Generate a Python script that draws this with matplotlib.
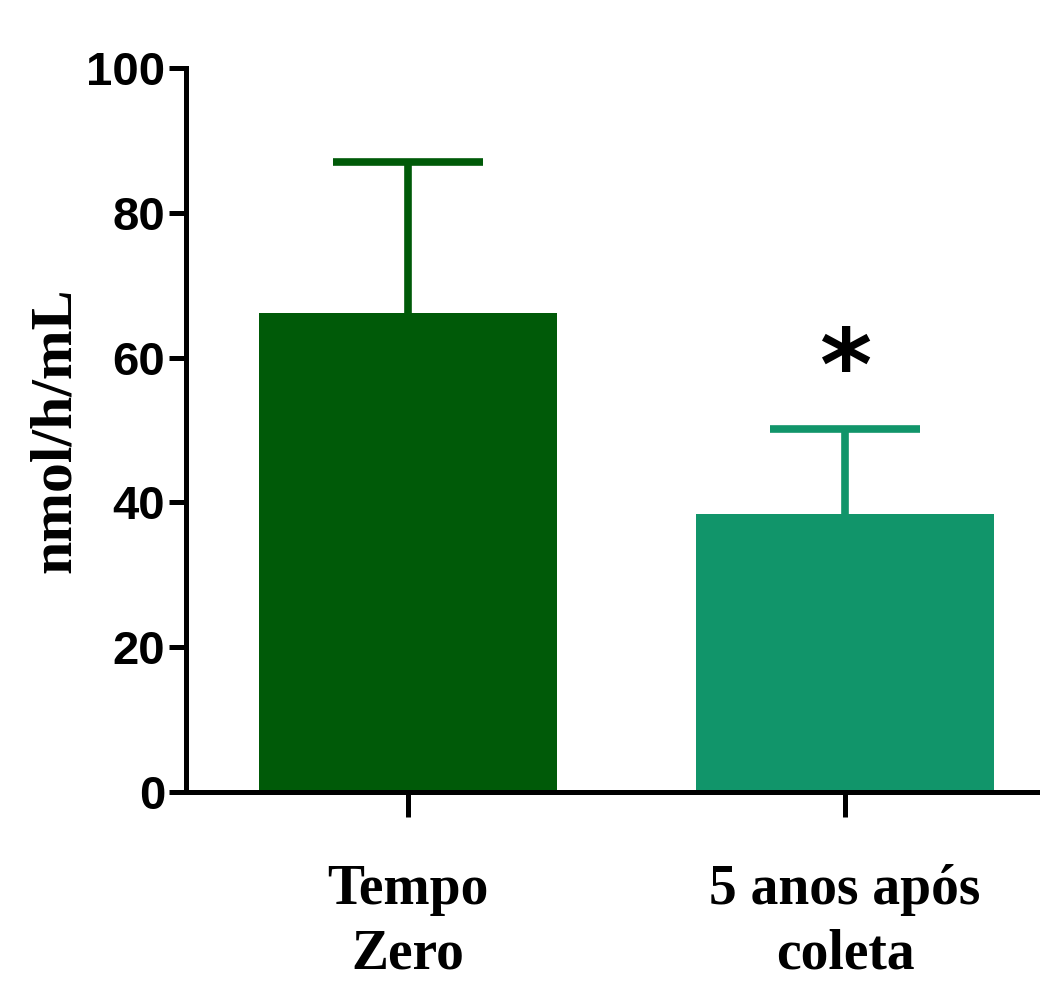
import matplotlib
matplotlib.use('Agg')
import matplotlib.pyplot as plt
import numpy as np

# values
groups = ['Tempo\nZero', '5 anos após\ncoleta']
means = [66.2, 38.4]
sem = [20.8, 11.7]
colors = ['#005a08', '#11956a']
yticks = [0, 20, 40, 60, 80, 100]
star_at = 1

fig = plt.figure(figsize=(10.4, 9.82), dpi=100)
ax = fig.add_axes([0.1788, 0.1935, 0.8212, 0.7373])

x = np.arange(len(groups))
ax.bar(x, means, width=0.68, color=colors, zorder=2)
for xi, m, e, c in zip(x, means, sem, colors):
    eb = ax.errorbar(xi, m, yerr=[[0], [e]], fmt='none', ecolor=c,
                     elinewidth=5.5, capsize=54, capthick=5.5, zorder=1)
    # only the upper cap is shown
    eb[1][0].set_visible(False)

# significance marker
ax.text(star_at, means[star_at] + sem[star_at] + 1.2, '*', ha='center', va='bottom',
        fontsize=72, fontweight='bold', family=['DejaVu Sans'])

ax.set_xlim(-0.508, 1.446)
ax.set_ylim(0, 100)
ax.set_yticks(yticks)
ax.set_xticks(x)
ax.set_xticklabels(groups, family=['Liberation Serif'], fontweight='bold',
                   fontsize=40, linespacing=1.3)
ax.set_yticklabels([str(v) for v in yticks],
                   family=['Liberation Sans Narrow', 'Liberation Sans'],
                   fontweight='bold', fontsize=34)

ax.set_ylabel('nmol/h/mL', family=['Liberation Serif'], fontweight='bold',
              fontsize=43, labelpad=2)

for s in ['top', 'right']:
    ax.spines[s].set_visible(False)
for s in ['left', 'bottom']:
    ax.spines[s].set_linewidth(3.6)
ax.tick_params(axis='y', length=12, width=3.6, pad=3)
ax.tick_params(axis='x', length=18, width=3.6, pad=34)

fig.savefig('out.png', dpi=100)
